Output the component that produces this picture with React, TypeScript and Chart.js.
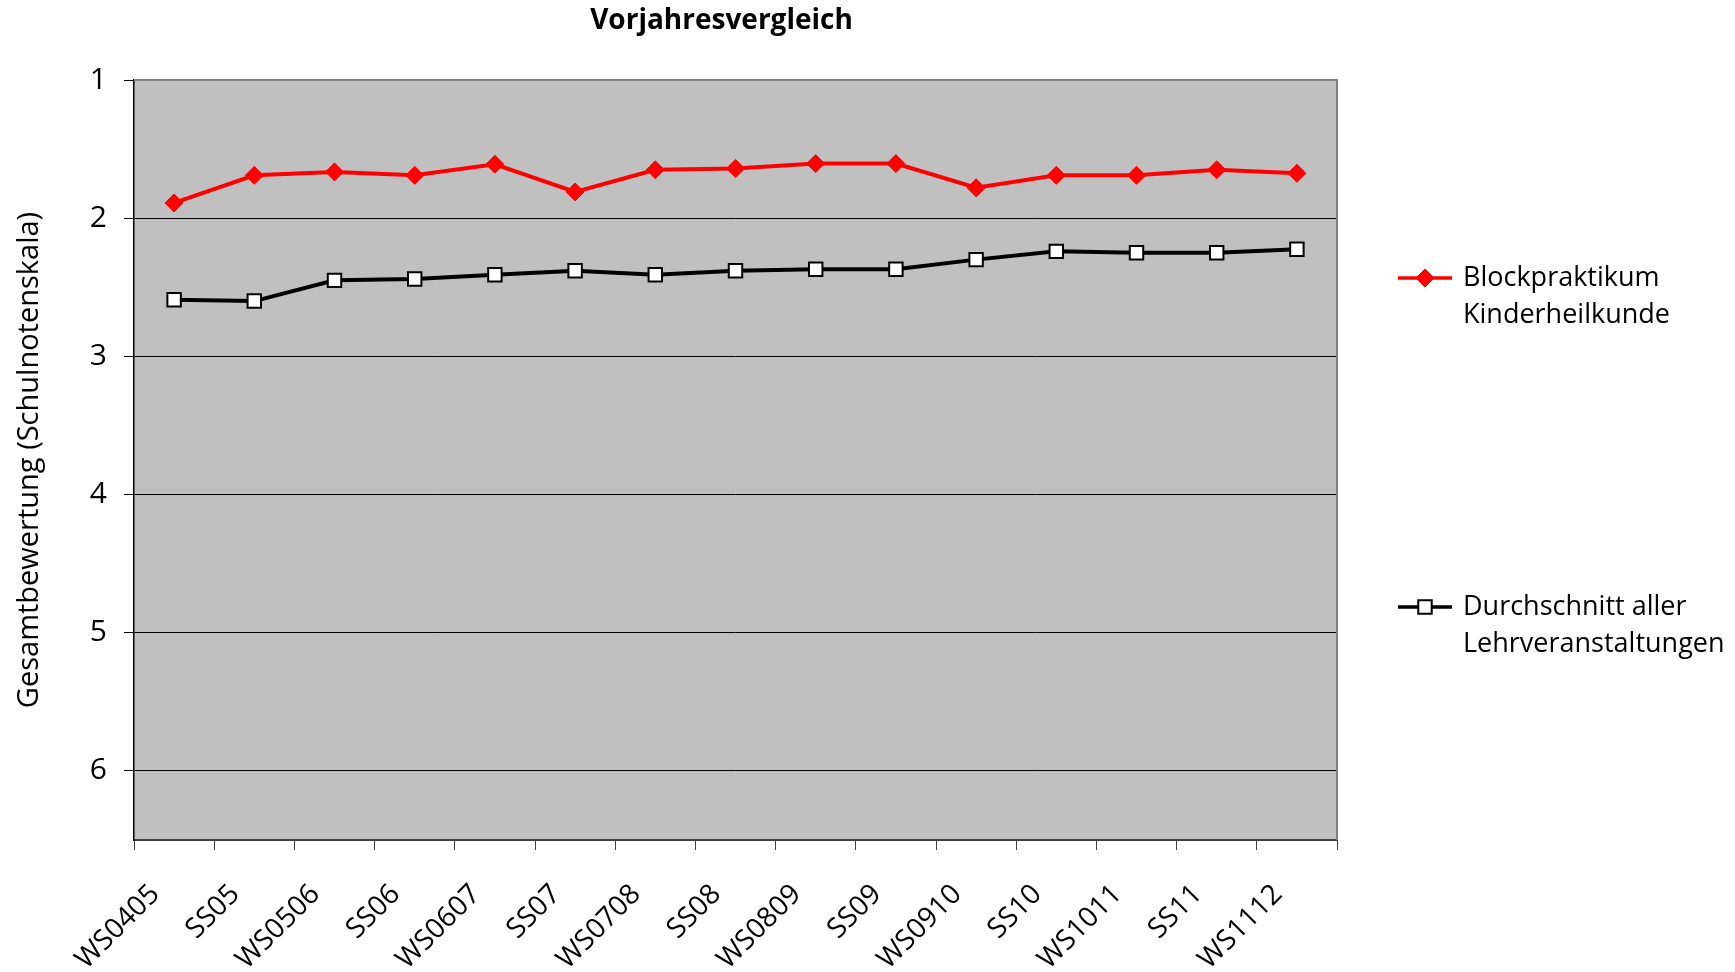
import React, { useEffect, useRef } from "react";
import { Chart, registerables } from "chart.js";

Chart.register(...registerables);

const chartTitle = "Vorjahresvergleich";
const yAxisTitle = "Gesamtbewertung (Schulnotenskala)";
const semesters = [
  "WS0405", "SS05", "WS0506", "SS06", "WS0607", "SS07", "WS0708", "SS08",
  "WS0809", "SS09", "WS0910", "SS10", "WS1011", "SS11", "WS1112",
];
const blockpraktikum = [1.89, 1.69, 1.665, 1.69, 1.61, 1.81, 1.65, 1.64, 1.605, 1.605, 1.78, 1.69, 1.69, 1.65, 1.675];
const durchschnitt = [2.59, 2.6, 2.45, 2.44, 2.41, 2.38, 2.41, 2.38, 2.37, 2.37, 2.3, 2.24, 2.25, 2.25, 2.225];
const seriesLabels = [
  ["Blockpraktikum", "Kinderheilkunde"],
  ["Durchschnitt aller", "Lehrveranstaltungen"],
];
const yMin = 1;
const yMax = 6.5;

const FONT = "'Open Sans', sans-serif";
const FS = 27;

const plotBackground = {
  id: "plotBackground",
  beforeDraw(chart: any) {
    const { ctx, chartArea: a } = chart;
    ctx.save();
    ctx.fillStyle = "#C0C0C0";
    ctx.fillRect(a.left, a.top, a.right - a.left, a.bottom - a.top);
    ctx.restore();
  },
  beforeDatasetsDraw(chart: any) {
    const { ctx, chartArea: a } = chart;
    ctx.save();
    ctx.strokeStyle = "#808080";
    ctx.lineWidth = 2;
    ctx.beginPath();
    ctx.moveTo(a.left, a.top);
    ctx.lineTo(a.right, a.top);
    ctx.lineTo(a.right, a.bottom);
    ctx.stroke();
    ctx.restore();
  },
};

const titlePlugin = {
  id: "offsetTitle",
  afterDraw(chart: any) {
    const { ctx, chartArea: a } = chart;
    ctx.save();
    ctx.fillStyle = "#000";
    ctx.font = `bold 28px ${FONT}`;
    ctx.textAlign = "center";
    ctx.textBaseline = "middle";
    ctx.fillText(chartTitle, (a.left + a.right) / 2 - 14, 21);
    ctx.restore();
  },
};

const sideLegend = {
  id: "sideLegend",
  afterDraw(chart: any) {
    const { ctx, chartArea: a } = chart;
    const x0 = a.right + 61;
    const rowYs = [a.top + 198, a.top + 527];
    chart.data.datasets.forEach((ds: any, i: number) => {
      const y = rowYs[i];
      ctx.save();
      ctx.strokeStyle = ds.borderColor;
      ctx.lineWidth = 3.5;
      ctx.beginPath();
      ctx.moveTo(x0, y);
      ctx.lineTo(x0 + 54, y);
      ctx.stroke();
      const cx = x0 + 27;
      ctx.fillStyle = ds.pointBackgroundColor;
      ctx.strokeStyle = ds.pointBorderColor;
      ctx.lineWidth = ds.pointBorderWidth;
      ctx.beginPath();
      if (ds.pointStyle === "rectRot") {
        const r = ds.pointRadius;
        ctx.moveTo(cx - r, y);
        ctx.lineTo(cx, y - r);
        ctx.lineTo(cx + r, y);
        ctx.lineTo(cx, y + r);
        ctx.closePath();
      } else {
        const s = ds.pointRadius * Math.SQRT1_2;
        ctx.rect(cx - s, y - s, 2 * s, 2 * s);
      }
      ctx.fill();
      ctx.stroke();
      ctx.fillStyle = "#000";
      ctx.font = `${FS}px ${FONT}`;
      ctx.textBaseline = "middle";
      ctx.textAlign = "left";
      seriesLabels[i].forEach((line, j) => {
        ctx.fillText(line, x0 + 65, y + j * 37);
      });
      ctx.restore();
    });
  },
};

export default function App() {
  const ref = useRef<HTMLCanvasElement>(null);
  useEffect(() => {
    if (!ref.current) return;
    const chart = new Chart(ref.current, {
      type: "line",
      data: {
        labels: semesters,
        datasets: [
          {
            label: seriesLabels[0].join(" "),
            data: blockpraktikum,
            borderColor: "#FF0000",
            backgroundColor: "#FF0000",
            borderWidth: 4,
            pointStyle: "rectRot",
            pointRadius: 9,
            pointBackgroundColor: "#FF0000",
            pointBorderColor: "#FF0000",
            pointBorderWidth: 1,
            tension: 0,
          },
          {
            label: seriesLabels[1].join(" "),
            data: durchschnitt,
            borderColor: "#000000",
            backgroundColor: "#FFFFFF",
            borderWidth: 4,
            pointStyle: "rect",
            pointRadius: 9.5,
            pointBackgroundColor: "#FFFFFF",
            pointBorderColor: "#000000",
            pointBorderWidth: 2,
            tension: 0,
          },
        ],
      },
      options: {
        animation: false,
        responsive: false,
        layout: { padding: { left: 0, right: 398, top: 80, bottom: 0 } },
        plugins: {
          legend: { display: false },
          tooltip: { enabled: false },
          title: { display: false },
        },
        scales: {
          x: {
            type: "category",
            offset: true,
            grid: {
              offset: true,
              drawOnChartArea: false,
              drawTicks: true,
              tickLength: 10,
              color: "#404040",
              lineWidth: 1,
            },
            border: { display: true, color: "#404040", width: 2 },
            ticks: {
              color: "#000",
              font: { family: FONT, size: 28 },
              maxRotation: 45,
              minRotation: 45,
              padding: 28,
              labelOffset: -19,
              autoSkip: false,
            },
            afterFit: (scale: any) => {
              scale.height = 132;
            },
          },
          y: {
            type: "linear",
            reverse: true,
            min: yMin,
            max: yMax,
            afterBuildTicks: (scale: any) => {
              scale.ticks = scale.ticks.filter((t: any) => Number.isInteger(t.value));
            },
            grid: {
              color: (c: any) => (c.tick && c.tick.value === yMin ? "rgba(0,0,0,0)" : "#000"),
              tickColor: "#000",
              lineWidth: 1,
              drawTicks: true,
              tickLength: 10,
            },
            border: { display: true, color: "#000", width: 1.5 },
            ticks: {
              stepSize: 1,
              color: "#000",
              font: { family: FONT, size: 30 },
              padding: 17,
            },
            title: {
              display: true,
              text: yAxisTitle,
              color: "#000",
              font: { family: FONT, size: 29 },
              padding: { top: 12, bottom: 0 },
            },
            afterFit: (scale: any) => {
              scale.width = 134;
            },
          },
        },
      },
      plugins: [plotBackground, titlePlugin, sideLegend],
    } as any);
    return () => chart.destroy();
  }, []);
  return (
    <div style={{ position: "absolute", left: 0, top: 0, width: 1735, height: 972, background: "#fff" }}>
      <canvas ref={ref} width={1735} height={972} style={{ display: "block" }} />
    </div>
  );
}
